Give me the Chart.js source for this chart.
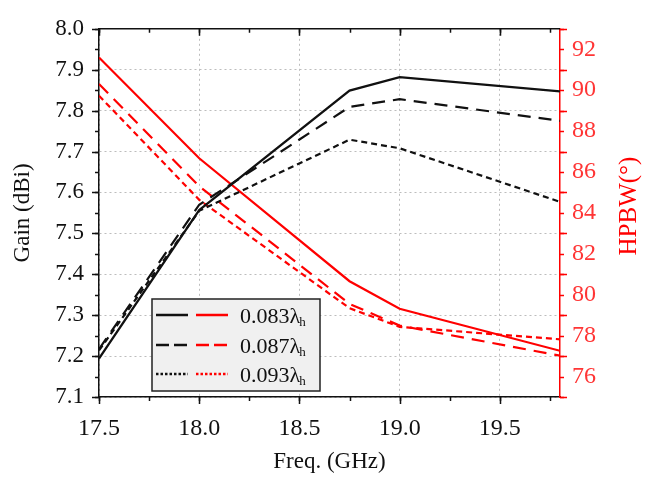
<!DOCTYPE html>
<html>
<head>
<meta charset="utf-8">
<script src="https://cdn.jsdelivr.net/npm/chart.js@4.4.0/dist/chart.umd.min.js"></script>
<style>
  html, body { margin: 0; padding: 0; background: #fff; }
</style>
</head>
<body>
<canvas id="gainChart" width="654" height="477"></canvas>
<script>
// values
const freqs = [17.5, 18.0, 18.75, 19.0, 19.8];
const gain083 = [7.194, 7.557, 7.849, 7.882, 7.847];
const gain087 = [7.217, 7.570, 7.809, 7.828, 7.775];
const gain093 = [7.214, 7.555, 7.729, 7.708, 7.577];
const hpbw083 = [91.6, 86.67, 80.66, 79.31, 77.26];
const hpbw087 = [90.3, 85.30, 79.55, 78.49, 77.02];
const hpbw093 = [89.73, 84.64, 79.34, 78.43, 77.82];
const seriesNames = ["0.083", "0.087", "0.093"];
const xTicks = [17.5, 18.0, 18.5, 19.0, 19.5];
const gainTicks = [7.1, 7.2, 7.3, 7.4, 7.5, 7.6, 7.7, 7.8, 7.9, 8.0];
const hpbwTicks = [76, 78, 80, 82, 84, 86, 88, 90, 92];

const SERIF = "'Liberation Serif', 'Times New Roman', serif";
const RED = "#ff0000";
const RED_TEXT = "#ff3535";
const INK = "#111";

const dashes = [[], [13, 8], [6, 4]];
const legendDashes = [[], [13, 5], [2.5, 2]];

function pts(arr) {
  return freqs.map((f, i) => ({ x: f, y: arr[i] }));
}

const gainSets = [gain083, gain087, gain093];
const hpbwSets = [hpbw083, hpbw087, hpbw093];
const datasets = [];
gainSets.forEach((arr, i) => {
  datasets.push({
    label: seriesNames[i] + " gain",
    data: pts(arr),
    yAxisID: "y",
    borderColor: INK,
    borderWidth: 2.2,
    borderDash: dashes[i],
    pointRadius: 0,
    fill: false,
    tension: 0,
    legendDash: legendDashes[i],
    group: i,
  });
});
hpbwSets.forEach((arr, i) => {
  datasets.push({
    label: seriesNames[i] + " hpbw",
    data: pts(arr),
    yAxisID: "y1",
    borderColor: RED,
    borderWidth: 2.2,
    borderDash: dashes[i],
    pointRadius: 0,
    fill: false,
    tension: 0,
    legendDash: legendDashes[i],
    group: i,
  });
});

function fixTicks(list) {
  return (scale) => {
    scale.ticks = list.map((v) => ({ value: v }));
  };
}

// tick marks (major + minor), top frame line, right title and legend box
const decorations = {
  id: "decorations",
  afterDraw(chart) {
    const { ctx, chartArea: a, scales } = chart;
    ctx.save();
    ctx.lineWidth = 1.5;

    // top frame
    ctx.strokeStyle = INK;
    ctx.beginPath();
    ctx.moveTo(a.left, a.top);
    ctx.lineTo(a.right, a.top);
    ctx.stroke();

    const drawX = (step, len) => {
      const sx = scales.x;
      for (let v = sx.min; v <= sx.max + 1e-9; v += step) {
        const px = Math.round(sx.getPixelForValue(v)) + 0.5;
        ctx.beginPath();
        ctx.moveTo(px, a.bottom);
        ctx.lineTo(px, a.bottom + len);
        ctx.moveTo(px, a.top);
        ctx.lineTo(px, a.top + len);
        ctx.stroke();
      }
    };
    ctx.strokeStyle = INK;
    drawX(0.5, 7);
    drawX(0.25, 4);

    const drawY = (scale, step, len, side) => {
      for (let v = scale.min; v <= scale.max + 1e-9; v += step) {
        const py = Math.round(scale.getPixelForValue(v)) + 0.5;
        const x0 = side === "left" ? a.left : a.right;
        const dir = side === "left" ? -1 : 1;
        ctx.beginPath();
        ctx.moveTo(x0, py);
        ctx.lineTo(x0 + dir * len, py);
        ctx.stroke();
      }
    };
    drawY(scales.y, 0.1, 7, "left");
    drawY(scales.y, 0.05, 4, "left");
    ctx.strokeStyle = RED;
    drawY(scales.y1, 2, 7, "right");
    drawY(scales.y1, 1, 4, "right");

    // right axis title, reading bottom to top
    ctx.fillStyle = RED;
    ctx.font = "25px " + SERIF;
    ctx.textAlign = "center";
    ctx.textBaseline = "middle";
    ctx.translate(629, 206);
    ctx.rotate(-Math.PI / 2);
    ctx.fillText("HPBW(°)", 0, 0);
    ctx.restore();

    // legend
    ctx.save();
    const bx = 152, by = 299, bw = 168, bh = 92;
    ctx.fillStyle = "#f0f0f0";
    ctx.fillRect(bx, by, bw, bh);
    ctx.lineWidth = 1.5;
    ctx.strokeStyle = "#222";
    ctx.strokeRect(bx, by, bw, bh);
    const rowY = [315, 345, 374];
    const sets = chart.data.datasets;
    seriesNames.forEach((name, i) => {
      const y = rowY[i];
      const pair = sets.filter((d) => d.group === i);
      pair.forEach((d, k) => {
        const x0 = k === 0 ? 156 : 196;
        ctx.strokeStyle = d.borderColor;
        ctx.lineWidth = 2.5;
        ctx.setLineDash(d.legendDash);
        ctx.beginPath();
        ctx.moveTo(x0, y);
        ctx.lineTo(x0 + 32, y);
        ctx.stroke();
      });
      ctx.setLineDash([]);
      ctx.fillStyle = INK;
      ctx.textAlign = "left";
      ctx.textBaseline = "alphabetic";
      ctx.font = "22px " + SERIF;
      const txt = name + "λ";
      ctx.fillText(txt, 240, y + 8);
      const w = ctx.measureText(txt).width;
      ctx.font = "13px " + SERIF;
      ctx.fillText("h", 240 + w - 1, y + 11);
    });
    ctx.restore();
  },
};

const ctx = document.getElementById("gainChart").getContext("2d");
new Chart(ctx, {
  type: "line",
  data: { datasets: datasets },
  options: {
    responsive: false,
    animation: false,
    layout: { padding: { top: 24, right: 0, left: 0, bottom: 0 } },
    plugins: {
      legend: { display: false },
      tooltip: { enabled: false },
    },
    scales: {
      x: {
        type: "linear",
        min: 17.5,
        max: 19.8,
        afterBuildTicks: fixTicks(xTicks),
        afterFit: (s) => { s.height = 80; },
        grid: { color: "#bdbdbd", lineWidth: 1, drawTicks: false },
        border: { color: INK, width: 1.5, dash: [2, 3] },
        ticks: {
          color: INK,
          padding: 17,
          font: { family: SERIF, size: 24 },
          callback: (v) => Number(v).toFixed(1),
        },
        title: {
          display: true,
          text: "Freq. (GHz)",
          color: INK,
          font: { family: SERIF, size: 23 },
          padding: { top: 0, bottom: 1 },
        },
      },
      y: {
        position: "left",
        min: 7.1,
        max: 8.0,
        afterBuildTicks: fixTicks(gainTicks),
        afterFit: (s) => { s.width = 99; },
        grid: { color: "#bdbdbd", lineWidth: 1, drawTicks: false },
        border: { color: INK, width: 1.5, dash: [2, 3] },
        ticks: {
          color: INK,
          padding: 15,
          font: { family: SERIF, size: 23 },
          callback: (v) => Number(v).toFixed(1),
        },
        title: {
          display: true,
          text: "Gain (dBi)",
          color: INK,
          font: { family: SERIF, size: 23 },
          padding: { top: 9, bottom: 0 },
        },
      },
      y1: {
        position: "right",
        min: 75,
        max: 93,
        afterBuildTicks: fixTicks(hpbwTicks),
        afterFit: (s) => { s.width = 94; },
        grid: { display: true, drawOnChartArea: false, drawTicks: false },
        border: { color: RED, width: 1.5 },
        ticks: {
          color: RED_TEXT,
          padding: 12,
          font: { family: SERIF, size: 24 },
        },
      },
    },
  },
  plugins: [decorations],
});
</script>
</body>
</html>
